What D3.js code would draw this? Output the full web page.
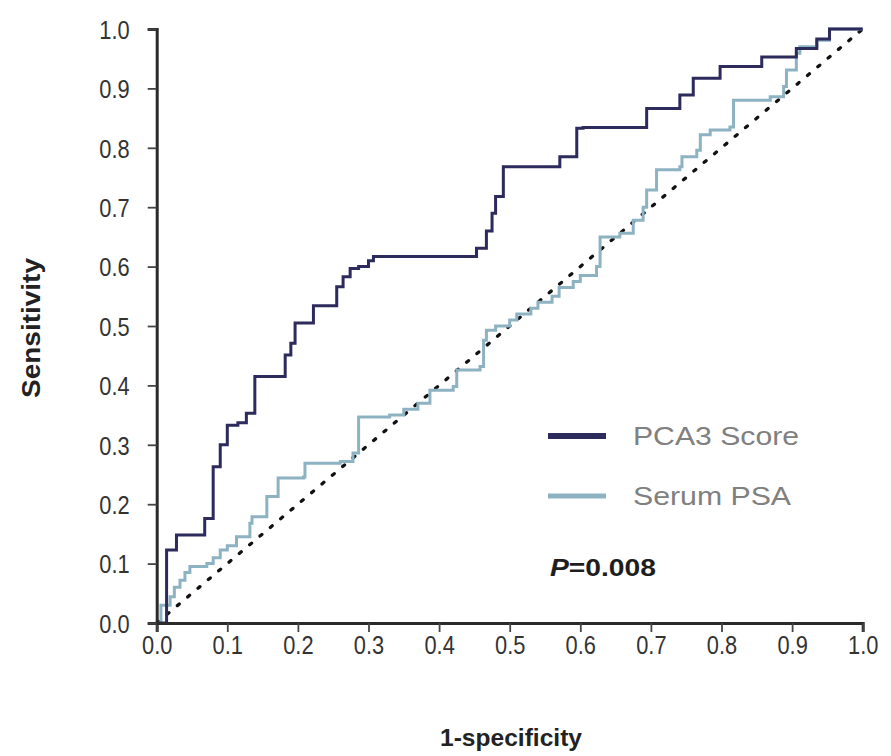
<!DOCTYPE html>
<html><head><meta charset="utf-8">
<script src="https://cdn.jsdelivr.net/npm/d3@7/dist/d3.min.js"></script>
<style>
body{margin:0;background:#fff;}
</style>
</head><body>
<svg id="chart" width="891" height="756"></svg>
<script>
// Data
const xTicks = [0,0.1,0.2,0.3,0.4,0.5,0.6,0.7,0.8,0.9,1.0];
const yTicks = [0,0.1,0.2,0.3,0.4,0.5,0.6,0.7,0.8,0.9,1.0];
const seriesNames = ["PCA3 Score","Serum PSA"];
const pca3FPR = [0,0.014,0.014,0.028,0.068,0.068,0.08,0.08,0.09,0.09,0.10,0.10,0.115,0.127,0.139,0.139,0.182,0.182,0.19,0.196,0.196,0.222,0.222,0.255,0.255,0.264,0.264,0.274,0.274,0.286,0.3,0.307,0.453,0.453,0.467,0.467,0.475,0.48,0.491,0.571,0.571,0.595,0.595,0.604,0.694,0.694,0.741,0.741,0.76,0.76,0.798,0.798,0.857,0.857,0.906,0.906,0.935,0.935,0.953,0.953,1.0];
const pca3TPR = [0,0.02,0.123,0.148,0.148,0.176,0.176,0.263,0.263,0.30,0.30,0.333,0.337,0.353,0.36,0.415,0.415,0.451,0.471,0.493,0.505,0.505,0.534,0.534,0.566,0.566,0.583,0.583,0.597,0.60,0.61,0.617,0.617,0.631,0.631,0.66,0.69,0.718,0.768,0.768,0.785,0.785,0.833,0.834,0.834,0.866,0.866,0.889,0.889,0.917,0.917,0.937,0.937,0.953,0.953,0.967,0.967,0.983,0.983,1.0,1.0];
const psaFPR = [0,0.006,0.019,0.025,0.033,0.04,0.047,0.071,0.08,0.09,0.10,0.113,0.132,0.135,0.156,0.172,0.208,0.21,0.26,0.278,0.286,0.33,0.35,0.37,0.387,0.42,0.425,0.458,0.463,0.467,0.48,0.50,0.51,0.53,0.54,0.56,0.57,0.59,0.60,0.623,0.628,0.656,0.675,0.689,0.694,0.708,0.708,0.741,0.744,0.765,0.77,0.784,0.812,0.817,0.869,0.888,0.892,0.906,0.911,0.935,0.953,1.0];
const psaTPR = [0,0.03,0.044,0.06,0.072,0.085,0.095,0.10,0.11,0.123,0.13,0.145,0.168,0.179,0.213,0.244,0.246,0.269,0.272,0.286,0.347,0.35,0.36,0.37,0.392,0.398,0.426,0.432,0.476,0.493,0.50,0.51,0.52,0.53,0.54,0.55,0.565,0.575,0.585,0.60,0.65,0.656,0.678,0.70,0.729,0.735,0.763,0.768,0.785,0.796,0.822,0.83,0.835,0.88,0.886,0.903,0.931,0.959,0.97,0.981,1.0,1.0];
const refLine = [0,1];
const pText = "0.008";

const colors = ["#2d2a5c","#8db3c3"];
const svg = d3.select("#chart");
const x = d3.scaleLinear().domain([0,1]).range([156.7,862.7]);
const y = d3.scaleLinear().domain([0,1]).range([623,29]);

const font = '"Liberation Sans",Arial,sans-serif';
const sx = 0.84; // horizontal condensing of tick labels

// reference diagonal
svg.append("line")
  .attr("x1",x(refLine[0])).attr("y1",y(refLine[0]))
  .attr("x2",x(refLine[1])).attr("y2",y(refLine[1]))
  .attr("stroke","#111").attr("stroke-width",3.3)
  .attr("stroke-dasharray","2.5,11").attr("stroke-linecap","round");

const line = d3.line().x(d=>x(d[0])).y(d=>y(d[1])).curve(d3.curveStepAfter);
const psa = psaFPR.map((v,i)=>[v,psaTPR[i]]);
const pca = pca3FPR.map((v,i)=>[v,pca3TPR[i]]);
svg.append("path").datum(psa).attr("d",line).attr("fill","none")
  .attr("stroke",colors[1]).attr("stroke-width",3).attr("stroke-linejoin","miter");
svg.append("path").datum(pca).attr("d",line).attr("fill","none")
  .attr("stroke",colors[0]).attr("stroke-width",3).attr("stroke-linejoin","miter");

// axes
const xAxis = svg.append("g").attr("transform","translate(0,623)")
  .call(d3.axisBottom(x).tickValues(xTicks).tickFormat(d3.format(".1f")).tickSize(9).tickPadding(4));
const yAxis = svg.append("g").attr("transform","translate(156.7,0)")
  .call(d3.axisLeft(y).tickValues(yTicks).tickFormat(d3.format(".1f")).tickSize(9).tickPadding(10));
[xAxis,yAxis].forEach(a=>{
  a.select(".domain").attr("stroke","#2a2a2a").attr("stroke-width",3);
  a.selectAll(".tick line").attr("stroke","#444").attr("stroke-width",1.8);
  a.selectAll(".tick text").attr("fill","#333").style("font-size","26px").style("font-family",font)
    .attr("transform",`scale(${sx},1)`);
});
yAxis.selectAll(".tick text").attr("x",-27/sx).attr("dy","0.36em");

// axis titles
svg.append("text").attr("transform","translate(40,328) rotate(-90)")
  .attr("text-anchor","middle").style("font-family",font).style("font-weight","bold")
  .style("font-size","25px").attr("fill","#222")
  .attr("textLength",140).attr("lengthAdjust","spacingAndGlyphs").text("Sensitivity");
svg.append("text").attr("x",511).attr("y",746)
  .attr("text-anchor","middle").style("font-family",font).style("font-weight","bold")
  .style("font-size","24px").attr("fill","#222")
  .attr("textLength",142).attr("lengthAdjust","spacingAndGlyphs").text("1-specificity");

// legend
const legY = [436,496];
const legLen = [166,158];
seriesNames.forEach((n,i)=>{
  svg.append("line").attr("x1",548).attr("x2",606).attr("y1",legY[i]).attr("y2",legY[i])
    .attr("stroke",colors[i]).attr("stroke-width",i===0?6:5);
  svg.append("text").attr("x",633).attr("y",legY[i]).attr("dy","0.36em")
    .style("font-family",font).style("font-size","26px")
    .attr("textLength",legLen[i]).attr("lengthAdjust","spacingAndGlyphs")
    .attr("fill","#808080").text(n);
});
const pt = svg.append("text").attr("x",550).attr("y",567).attr("dy","0.36em")
  .style("font-family",font).style("font-weight","bold").style("font-size","24px").attr("fill","#1e1e1e")
  .attr("textLength",106).attr("lengthAdjust","spacingAndGlyphs");
pt.append("tspan").style("font-style","italic").text("P");
pt.append("tspan").text("=" + pText);
</script>
</body></html>
